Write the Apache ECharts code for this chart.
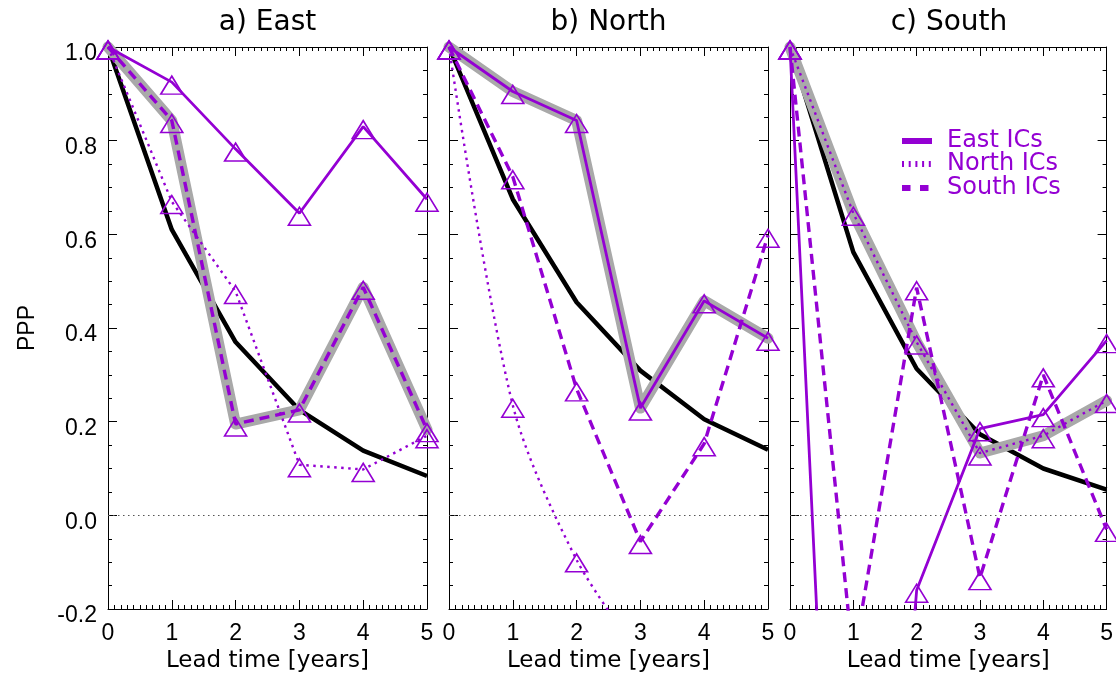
<!DOCTYPE html>
<html>
<head>
<meta charset="utf-8">
<script src="https://cdn.jsdelivr.net/npm/echarts@6.0.0/dist/echarts.min.js"></script>
<style>
  html, body { margin: 0; padding: 0; background: #fff; }
  #chart { width: 1116px; height: 679px; }
</style>
</head>
<body>
<div id="chart"></div>
<script>
// Lead times (years) shared by every panel
const leadYears = [0, 1, 2, 3, 4, 5];
const panelTitles = ['a) East', 'b) North', 'c) South'];
const icNames = ['East ICs', 'North ICs', 'South ICs'];
const yTickValues = [-0.2, 0.0, 0.2, 0.4, 0.6, 0.8, 1.0];

// a) East region: reference decay curve and PPP from each set of initial conditions
const eastRef       = [1.0, 0.61, 0.37, 0.225, 0.138, 0.084];
const eastFromEast  = [1.0, 0.925, 0.782, 0.645, 0.83, 0.675];
const eastFromNorth = [1.0, 0.67, 0.478, 0.108, 0.098, 0.17];
const eastFromSouth = [1.0, 0.843, 0.195, 0.225, 0.487, 0.183];

// b) North region
const northRef       = [1.0, 0.675, 0.455, 0.309, 0.205, 0.14];
const northFromEast  = [1.0, 0.905, 0.843, 0.229, 0.458, 0.378];
const northFromNorth = [1.0, 0.235, -0.095, -0.3, null, null];
const northFromSouth = [1.0, 0.723, 0.27, -0.056, 0.153, 0.598];

// c) South region
const southRef       = [1.0, 0.562, 0.313, 0.173, 0.1, 0.055];
const southFromEast  = [1.0, -1.85, -0.16, 0.185, 0.215, 0.373];
const southFromNorth = [1.0, 0.645, 0.37, 0.133, 0.17, 0.245];
const southFromSouth = [1.0, -0.31, 0.486, -0.133, 0.30, -0.03];

// Which IC set is emphasised with a grey band in each panel
const highlighted = ['South ICs', 'East ICs', 'North ICs'];

const PURPLE = '#9400D3';
const FONT = '"Liberation Sans", Arial, Helvetica, sans-serif';
const WIDE_FONT = '"DejaVu Sans", "Liberation Sans", sans-serif';

const panels = [
  { ref: eastRef,  ics: [eastFromEast,  eastFromNorth,  eastFromSouth] },
  { ref: northRef, ics: [northFromEast, northFromNorth, northFromSouth] },
  { ref: southRef, ics: [southFromEast, southFromNorth, southFromSouth] }
];

const gridBoxes = [
  { left: 108, top: 47, width: 319, height: 562 },
  { left: 449, top: 47, width: 319, height: 562 },
  { left: 790, top: 47, width: 318, height: 562 }
];

const icLineTypes = ['solid', [2.5, 4.5], [10, 6]];
const icLineWidths = [2.8, 2.4, 3.4];

function pairs(values) {
  return leadYears.map((x, i) => [x, values[i]]);
}

const tickCommon = {
  axisLine: { show: true, onZero: false, lineStyle: { color: '#000', width: 1 } },
  axisTick: { show: true, inside: true, length: 9, lineStyle: { color: '#000', width: 1 } },
  minorTick: { show: true, length: 4, lineStyle: { color: '#000', width: 1 } },
  splitLine: { show: false },
  minorSplitLine: { show: false }
};

const xAxes = [];
const yAxes = [];
[0, 1].forEach(side => {
  gridBoxes.forEach((g, p) => {
    xAxes.push(Object.assign({}, tickCommon, {
      type: 'value', gridIndex: p, min: 0, max: 5, interval: 1,
      position: side === 0 ? 'bottom' : 'top',
      minorTick: Object.assign({}, tickCommon.minorTick, { splitNumber: 10 }),
      axisLabel: side === 0 ? {
        show: true, fontSize: 23, fontFamily: FONT, color: '#000', margin: 13,
        showMinLabel: true, showMaxLabel: true
      } : { show: false },
      name: side === 0 ? 'Lead time [years]' : '',
      nameLocation: 'middle', nameGap: 41,
      nameTextStyle: { fontSize: 23, fontFamily: WIDE_FONT, color: '#000' }
    }));
  });
});
[0, 1].forEach(side => {
  gridBoxes.forEach((g, p) => {
    const labelled = side === 0 && p === 0;
    yAxes.push(Object.assign({}, tickCommon, {
      type: 'value', gridIndex: p, min: yTickValues[0], max: yTickValues[yTickValues.length - 1],
      interval: 0.2,
      position: side === 0 ? 'left' : 'right',
      minorTick: Object.assign({}, tickCommon.minorTick, { splitNumber: 4 }),
      axisLabel: labelled ? {
        show: true, fontSize: 23, fontFamily: FONT, color: '#000', margin: 11,
        verticalAlign: 'top', lineHeight: 14,
        showMinLabel: true, showMaxLabel: true,
        formatter: v => Number(v).toFixed(1)
      } : { show: false },
      name: labelled ? 'PPP' : '',
      nameLocation: 'middle', nameGap: 69,
      nameTextStyle: { fontSize: 23, fontFamily: FONT, color: '#000' }
    }));
  });
});

const series = [];
panels.forEach((panel, p) => {
  // reference curve, carrying the zero line
  series.push({
    type: 'line', xAxisIndex: p, yAxisIndex: p, data: pairs(panel.ref),
    symbol: 'none', z: 2, silent: true,
    lineStyle: { color: '#000', width: 4.5 },
    markLine: {
      silent: true, symbol: 'none', label: { show: false },
      lineStyle: { color: '#555', width: 1, type: [1.5, 3.5] },
      data: [{ yAxis: 0 }]
    }
  });
  // grey emphasis band
  const hi = icNames.indexOf(highlighted[p]);
  series.push({
    type: 'line', xAxisIndex: p, yAxisIndex: p, data: pairs(panel.ics[hi]),
    symbol: 'none', z: 3, silent: true,
    lineStyle: { color: '#a9a9a9', width: 11, cap: 'round', join: 'round' }
  });
  // purple IC curves with open triangles
  panel.ics.forEach((vals, k) => {
    series.push({
      name: icNames[k], type: 'line', xAxisIndex: p, yAxisIndex: p,
      data: pairs(vals), z: 4, silent: true, connectNulls: false,
      smooth: (p === 1 && k === 1) ? 0.3 : false,
      symbol: 'triangle', symbolSize: [22, 18], symbolOffset: [0, 3],
      showAllSymbol: true,
      itemStyle: { color: 'rgba(0,0,0,0)', borderColor: PURPLE, borderWidth: 1.6 },
      lineStyle: { color: PURPLE, width: icLineWidths[k], type: icLineTypes[k] }
    });
  });
});

// panel titles and the key in panel c
const graphics = [];
panelTitles.forEach((t, p) => {
  const g = gridBoxes[p];
  graphics.push({
    type: 'text', x: g.left + g.width / 2, y: 23,
    style: { text: t, fill: '#000', fontSize: 28, fontFamily: WIDE_FONT,
             align: 'center', verticalAlign: 'middle',
             textAlign: 'center', textVerticalAlign: 'middle' }
  });
});
const keyRows = [141, 164, 188];
const keyDash = [null, [2, 4.7], [8.5, 9.5]];
icNames.forEach((n, k) => {
  graphics.push({
    type: 'line', shape: { x1: 902, y1: keyRows[k], x2: 932, y2: keyRows[k] },
    style: { stroke: PURPLE, lineWidth: 6, lineDash: keyDash[k] }
  });
  graphics.push({
    type: 'text', x: 947, y: keyRows[k],
    style: { text: n, fill: PURPLE, fontSize: 24, fontFamily: WIDE_FONT,
             align: 'left', verticalAlign: 'middle',
             textAlign: 'left', textVerticalAlign: 'middle' }
  });
});

const chart = echarts.init(document.getElementById('chart'), null, { renderer: 'canvas' });
chart.setOption({
  animation: false,
  backgroundColor: '#fff',
  grid: gridBoxes.map(g => Object.assign({ containLabel: false }, g)),
  xAxis: xAxes,
  yAxis: yAxes,
  series: series,
  graphic: graphics
});
</script>
</body>
</html>
